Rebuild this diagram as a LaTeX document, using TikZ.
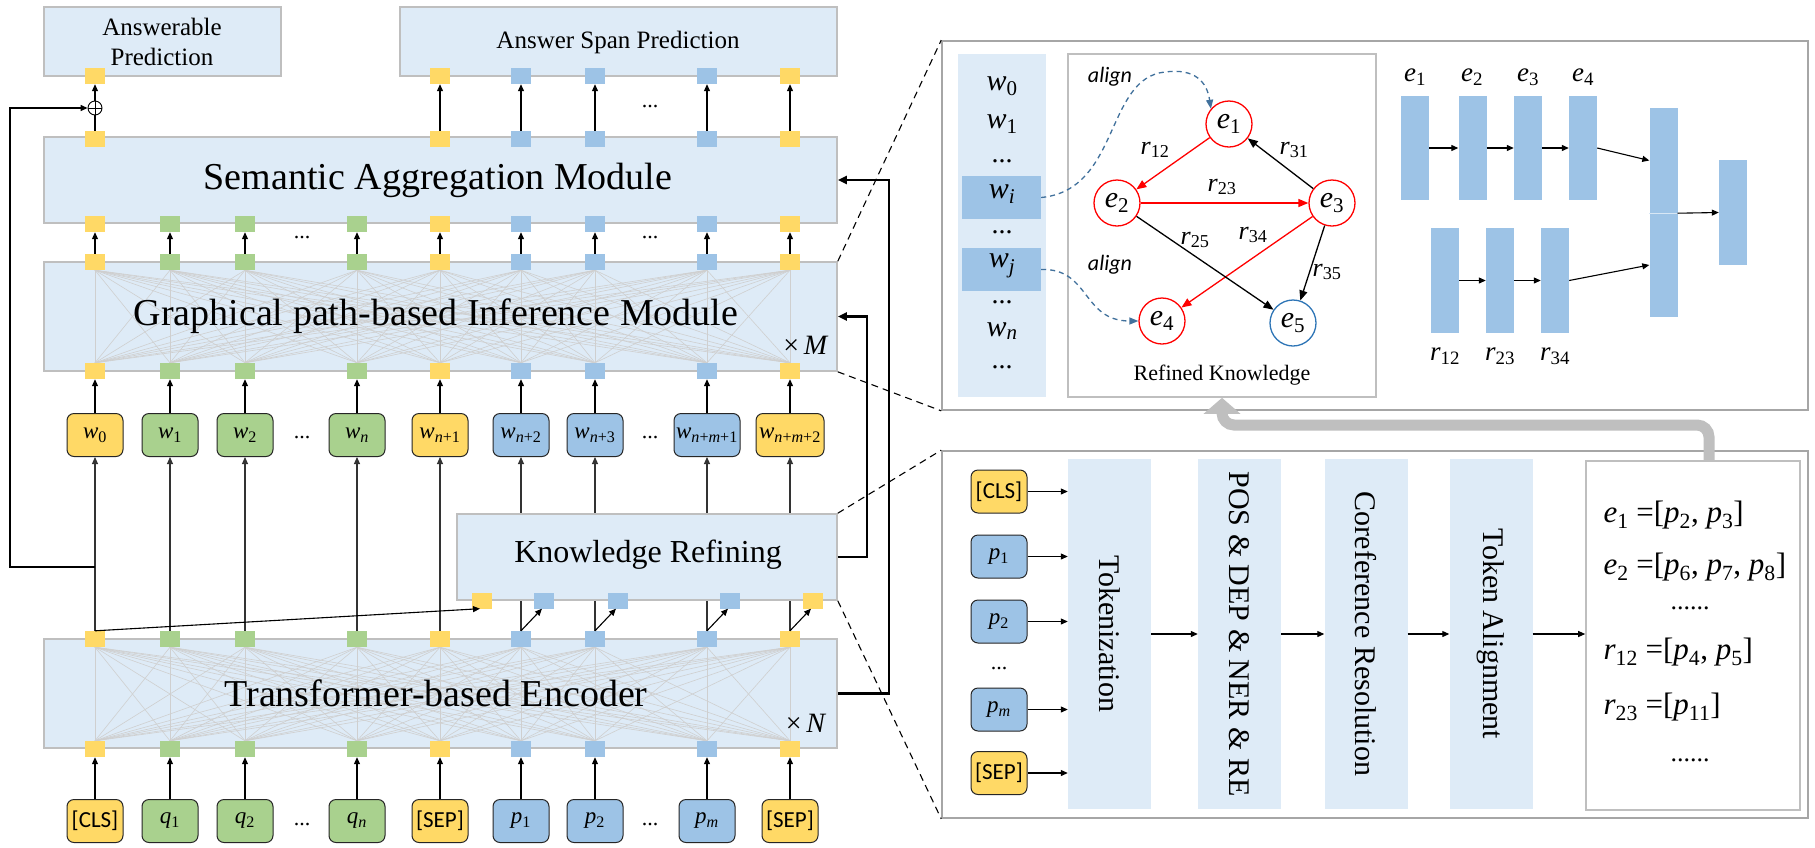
\documentclass[tikz,border=0pt]{standalone}
\usepackage{fontspec}
\setmainfont{Liberation Serif}
\newfontfamily\cfont{Carlito}
\usetikzlibrary{arrows.meta,calc}
\definecolor{boxbg}{HTML}{DEEBF7}
\definecolor{boxln}{HTML}{BFBFBF}
\definecolor{yel}{HTML}{FFD966}
\definecolor{grn}{HTML}{A9D18E}
\definecolor{blu}{HTML}{9DC3E6}
\definecolor{dblu}{HTML}{2E75B6}
\definecolor{alblu}{HTML}{41719C}
\definecolor{pnl}{HTML}{A6A6A6}
\definecolor{grarr}{HTML}{BFBFBF}
\newcommand\fs[1]{\fontsize{#1}{#1}\selectfont}
\newcommand\vsub[2]{\textit{#1}\textsubscript{#2}}
\begin{document}
\begin{tikzpicture}[x=1pt,y=-1pt,
  arr/.style={-{Triangle[length=7pt,width=6pt]}, line width=1.1pt},
  ln/.style={line width=1.1pt},
  thk/.style={-{Triangle[length=9pt,width=8pt]}, line width=2.2pt},
  mesh/.style={draw=gray!38, line width=0.6pt},
  modbox/.style={draw=boxln, fill=boxbg, line width=1.6pt, inner sep=0},
  sq/.style={minimum width=20pt, minimum height=16pt, inner sep=0},
  tok/.style={draw=black!85, line width=1pt, rounded corners=7pt, minimum width=56pt, minimum height=43pt, inner sep=0, font=\fs{23}},
  bar/.style={fill=blu, minimum width=28pt, inner sep=0},
  ent/.style={circle, draw=red, line width=1.3pt, minimum size=46pt, inner sep=0, font=\fs{30}},
  redarr/.style={-{Triangle[length=10pt,width=8pt]}, draw=red, line width=1.3pt},
  blkarr/.style={-{Triangle[length=10pt,width=8pt]}, line width=1.3pt},
  aldash/.style={-{Triangle[length=9pt,width=7pt]}, draw=alblu, dashed, dash pattern=on 5pt off 4pt, line width=1.3pt},
  pdash/.style={draw=black, dash pattern=on 7pt off 5pt, line width=1.1pt},
  modtxt/.style={font=\fs{38}},
  rlab/.style={font=\fs{26}},
  dots/.style={font=\fs{22}},
  stage/.style={draw=none, fill=boxbg, minimum width=83pt, minimum height=350pt, inner sep=0},
  stagetxt/.style={rotate=-90, font=\fs{30}},
  wlab/.style={font=\fs{30}, inner sep=0},
]
\useasboundingbox (0,0) rectangle (1815,847);
\fill[white] (0,0) rectangle (1815,847);

% ---------- module boxes ----------
\node[modbox, minimum width=237pt, minimum height=69pt] (ansb) at (162.5,41.5) {};
\node[modbox, minimum width=437pt, minimum height=69pt] (spanb) at (618.5,41.5) {};
\node[modbox, minimum width=793pt, minimum height=86pt] (sam) at (440.5,180) {};
\node[modbox, minimum width=793pt, minimum height=109pt] (gpim) at (440.5,316.5) {};
\node[modbox, minimum width=793pt, minimum height=109pt] (enc) at (440.5,693.5) {};

% ---------- squares ----------
\foreach \x/\c [count=\i] in {95/yel,170/grn,245/grn,357/grn,440/yel,521/blu,595/blu,707/blu,790/yel} {
  \node[sq,fill=\c] (eb\i) at (\x,749) {};
  \node[sq,fill=\c] (et\i) at (\x,639) {};
  \node[sq,fill=\c] (gb\i) at (\x,371) {};
  \node[sq,fill=\c] (gt\i) at (\x,262) {};
  \node[sq,fill=\c] (sb\i) at (\x,224) {};
}
\foreach \x/\c [count=\i from 5] in {440/yel,521/blu,595/blu,707/blu,790/yel} {
  \node[sq,fill=\c] (st\i) at (\x,139) {};
  \node[sq,fill=\c] (ap\i) at (\x,76) {};
}
\node[sq,fill=yel] (st1) at (95,139) {};
\node[sq,fill=yel] (ap1) at (95,76) {};

% ---------- mesh ----------
\foreach \i in {1,...,9} \foreach \j in {1,...,9} {
  \draw[mesh] (eb\i.north) -- (et\j.south);
  \draw[mesh] (gb\i.north) -- (gt\j.south);
}
% squares again above the mesh
\foreach \x/\c [count=\i] in {95/yel,170/grn,245/grn,357/grn,440/yel,521/blu,595/blu,707/blu,790/yel} {
  \fill[\c] (eb\i.south west) rectangle (eb\i.north east);
  \fill[\c] (et\i.south west) rectangle (et\i.north east);
  \fill[\c] (gb\i.south west) rectangle (gb\i.north east);
  \fill[\c] (gt\i.south west) rectangle (gt\i.north east);
}

% ---------- module texts ----------
\node[font=\fontsize{25}{30}\selectfont, align=center] at (162,42) {Answerable\\Prediction};
\node[font=\fs{25}] at (618,42) {Answer Span Prediction};
\node[modtxt] at (438,180) {Semantic Aggregation Module};
\node[modtxt] at (436,316) {Graphical path-based Inference Module};
\node[modtxt] at (436,693) {Transformer-based Encoder};
\node[font=\fs{28}] at (806,345) {×\,\textit{M}};
\node[font=\fs{28}] at (806,723) {×\,\textit{N}};

% ---------- input tokens ----------
\node[tok,fill=yel] (in1) at (95,821) {\cfont [CLS]};
\node[tok,fill=grn] (in2) at (170,821) {\vsub{q}{1}};
\node[tok,fill=grn] (in3) at (245,821) {\vsub{q}{2}};
\node[tok,fill=grn] (in4) at (357,821) {\vsub{q}{\textit{n}}};
\node[tok,fill=yel] (in5) at (440,821) {\cfont [SEP]};
\node[tok,fill=blu] (in6) at (521,821) {\vsub{p}{1}};
\node[tok,fill=blu] (in7) at (595,821) {\vsub{p}{2}};
\node[tok,fill=blu] (in8) at (707,821) {\vsub{p}{\textit{m}}};
\node[tok,fill=yel] (in9) at (790,821) {\cfont [SEP]};
\node[dots] at (302,824) {...};
\node[dots] at (650,824) {...};

% ---------- word tokens ----------
\node[tok,fill=yel] (w1) at (95,435) {\vsub{w}{0}};
\node[tok,fill=grn] (w2) at (170,435) {\vsub{w}{1}};
\node[tok,fill=grn] (w3) at (245,435) {\vsub{w}{2}};
\node[tok,fill=grn] (w4) at (357,435) {\vsub{w}{\textit{n}}};
\node[tok,fill=yel] (w5) at (440,435) {\vsub{w}{\textit{n}+1}};
\node[tok,fill=blu] (w6) at (521,435) {\vsub{w}{\textit{n}+2}};
\node[tok,fill=blu] (w7) at (595,435) {\vsub{w}{\textit{n}+3}};
\node[tok,fill=blu,minimum width=66pt] (w8) at (707,435) {\vsub{w}{\textit{n}+\textit{m}+1}};
\node[tok,fill=yel,minimum width=68pt] (w9) at (790,435) {\vsub{w}{\textit{n}+\textit{m}+2}};
\node[dots] at (302,438) {...};
\node[dots] at (650,438) {...};

% ---------- vertical arrows ----------
\foreach \i in {1,...,9} {
  \draw[arr] (in\i.north) -- (eb\i.south);
  \draw[arr,draw=black!80] (et\i.north) -- (w\i.south);
  \draw[arr] (w\i.north) -- (gb\i.south);
  \draw[arr] (gt\i.north) -- (sb\i.south);
}
\node[dots] at (302,238) {...};
\node[dots] at (650,238) {...};
\foreach \i in {5,...,9} \draw[arr] (st\i.north) -- (ap\i.south);
\node[dots] at (650,107) {...};
\node[circle, draw, line width=0.9pt, minimum size=14pt, inner sep=0,
  path picture={\draw[line width=0.9pt] (path picture bounding box.north) -- (path picture bounding box.south) (path picture bounding box.west) -- (path picture bounding box.east);}] (plus) at (95,108) {};
\draw[ln] (st1.north) -- (plus.south);
\draw[arr] (plus.north) -- (ap1.south);
\coordinate (brk) at (95,567);
\draw[arr, line width=1.5pt] (brk) -- ++(-85,0) |- (plus.west);

% ---------- knowledge refining ----------
\node[modbox, minimum width=380pt, minimum height=86pt] (kr) at (647,557) {};
\node[font=\fs{32}] at (648,555) {Knowledge Refining};
\node[sq,fill=yel] (kr1) at (482,600.5) {};
\node[sq,fill=blu] (kr2) at (544,600.5) {};
\node[sq,fill=blu] (kr3) at (618,600.5) {};
\node[sq,fill=blu] (kr4) at (730,600.5) {};
\node[sq,fill=yel] (kr5) at (813,600.5) {};
\draw[arr] (et1.north) -- ($(kr1.south west)!0.4!(kr1.south east)$);
\draw[arr] (et6.north) -- ($(kr2.south west)!0.4!(kr2.south east)$);
\draw[arr] (et7.north) -- ($(kr3.south west)!0.4!(kr3.south east)$);
\draw[arr] (et8.north) -- ($(kr4.south west)!0.4!(kr4.south east)$);
\draw[arr] (et9.north) -- ($(kr5.south west)!0.4!(kr5.south east)$);

% ---------- feedback lines ----------
\draw[thk] (kr.east) -- ++(29,0) |- (gpim.east);
\draw[thk] (enc.east) -- ++(51,0) |- (sam.east);

% ---------- top right panel ----------
\node[draw=pnl, line width=1.6pt, minimum width=866pt, minimum height=369pt, inner sep=0] (tp) at (1375,225.5) {};
\node[fill=boxbg, minimum width=88pt, minimum height=343pt, inner sep=0] (wcol) at (1002,225.5) {};
\node[fill=blu, minimum width=79pt, minimum height=43pt, inner sep=0] (wi) at (1001.5,197.5) {};
\node[fill=blu, minimum width=79pt, minimum height=43pt, inner sep=0] (wj) at (1001.5,269.5) {};
\node[wlab] at (1002,86) {\vsub{w}{0}};
\node[wlab] at (1002,124) {\vsub{w}{1}};
\node[dots,font=\fs{28}] at (1002,161) {...};
\node[wlab] at (1002,194) {\vsub{w}{\textit{i}}};
\node[dots,font=\fs{28}] at (1002,232) {...};
\node[wlab] at (1002,266) {\vsub{w}{\textit{j}}};
\node[dots,font=\fs{28}] at (1002,302) {...};
\node[wlab] at (1002,331) {\vsub{w}{\textit{n}}};
\node[dots,font=\fs{28}] at (1002,367) {...};
\node[draw=boxln, line width=1.6pt, fill=white, minimum width=308pt, minimum height=343pt, inner sep=0] (rk) at (1222,225.5) {};
\node[font=\fs{22}] at (1222,375) {Refined Knowledge};
\node[ent] (e1) at (1229,124) {\vsub{e}{1}};
\node[ent] (e2) at (1117,203) {\vsub{e}{2}};
\node[ent] (e3) at (1332,203) {\vsub{e}{3}};
\node[ent] (e4) at (1162,321) {\vsub{e}{4}};
\node[ent,draw=dblu] (e5) at (1293,323) {\vsub{e}{5}};
\draw[redarr] (e1) -- (e2);
\draw[redarr] (e2) -- (e3);
\draw[redarr] (e3) -- (e4);
\draw[blkarr] (e3) -- (e1);
\draw[blkarr] (e2) -- (e5);
\draw[blkarr] (e3) -- (e5);
\node[rlab] at (1155,150) {\vsub{r}{12}};
\node[rlab] at (1294,150) {\vsub{r}{31}};
\node[rlab] at (1222,187) {\vsub{r}{23}};
\node[rlab] at (1195,240) {\vsub{r}{25}};
\node[rlab] at (1253,235) {\vsub{r}{34}};
\node[rlab] at (1327,272) {\vsub{r}{35}};
\node[font=\cfont\itshape\fs{22}] at (1110,77) {align};
\node[font=\cfont\itshape\fs{22}] at (1110,265) {align};
\draw[aldash] (wi.east) .. controls (1120,190) and (1105,78) .. (1165,72) .. controls (1195,68) and (1207,82) .. (e1.140);
\draw[aldash] (wj.east) .. controls (1090,268) and (1082,321) .. (e4.west);

% bars
\node[bar, minimum height=104pt] (be1) at (1415,148) {};
\node[bar, minimum height=104pt] (be2) at (1472.5,148) {};
\node[bar, minimum height=104pt] (be3) at (1528,148) {};
\node[bar, minimum height=104pt] (be4) at (1583,148) {};
\node[bar, minimum height=105pt] (br1) at (1445,280.5) {};
\node[bar, minimum height=105pt] (br2) at (1500,280.5) {};
\node[bar, minimum height=105pt] (br3) at (1555,280.5) {};
\node[bar, minimum height=105pt] (bigu) at (1663.5,160.5) {};
\node[bar, minimum height=104pt] (bigl) at (1663.5,265) {};
\node[bar, minimum height=105pt] (fin) at (1733,212.5) {};
\draw[white!60!blu, line width=0.6pt] (bigu.south west) -- (bigu.south east);
\begin{scope}[every node/.style={font=\fs{27}}]
\node at (1415,77) {\vsub{e}{1}};
\node at (1472,77) {\vsub{e}{2}};
\node at (1528,77) {\vsub{e}{3}};
\node at (1583,77) {\vsub{e}{4}};
\node at (1445,356) {\vsub{r}{12}};
\node at (1500,356) {\vsub{r}{23}};
\node at (1555,356) {\vsub{r}{34}};
\end{scope}
\draw[arr] (be1.east) -- (be2.west);
\draw[arr] (be2.east) -- (be3.west);
\draw[arr] (be3.east) -- (be4.west);
\draw[arr] (br1.east) -- (br2.west);
\draw[arr] (br2.east) -- (br3.west);
\draw[arr] (be4.east) -- (bigu.west);
\draw[arr] (br3.east) -- (bigl.west);
\draw[arr] (bigu.south east) -- (fin.west);

% ---------- bottom right panel ----------
\node[draw=pnl, line width=1.6pt, minimum width=866pt, minimum height=367pt, inner sep=0] (bp) at (1375,634.5) {};
\node[tok,fill=yel] (bcls) at (999,491.5) {\cfont [CLS]};
\node[tok,fill=blu] (bp1) at (999,556.5) {\vsub{p}{1}};
\node[tok,fill=blu] (bp2) at (999,621.5) {\vsub{p}{2}};
\node[dots] at (999,668) {...};
\node[tok,fill=blu] (bpm) at (999,709.5) {\vsub{p}{\textit{m}}};
\node[tok,fill=yel] (bsep) at (999,773) {\cfont [SEP]};
\node[stage] (tokz) at (1109.5,634) {};
\node[stage] (posb) at (1239.5,634) {};
\node[stage] (corf) at (1366,634) {};
\node[stage] (tali) at (1491,634) {};
\node[stagetxt] at (tokz) {Tokenization};
\node[stagetxt] at (posb) {POS \& DEP \& NER \& RE};
\node[stagetxt] at (corf) {Coreference Resolution};
\node[stagetxt] at (tali) {Token Alignment};
\node[draw=boxln, line width=1.6pt, fill=white, minimum width=214pt, minimum height=349pt, inner sep=0] (res) at (1693,635.5) {};
\foreach \n in {bcls,bp1,bp2,bpm,bsep} \draw[arr] (\n.east) -- (\n.east -| tokz.west);
\draw[arr] (tokz.east) -- (posb.west);
\draw[arr] (posb.east) -- (corf.west);
\draw[arr] (corf.east) -- (tali.west);
\draw[arr] (tali.east) -- (tali.east -| res.west);
\begin{scope}[every node/.style={font=\fs{31}, anchor=west}]
\node at (1600,515) {\vsub{e}{1} =[\vsub{p}{2}, \vsub{p}{3}]};
\node at (1600,567) {\vsub{e}{2} =[\vsub{p}{6}, \vsub{p}{7}, \vsub{p}{8}]};
\node at (1600,652) {\vsub{r}{12} =[\vsub{p}{4}, \vsub{p}{5}]};
\node at (1600,707) {\vsub{r}{23} =[\vsub{p}{11}]};
\end{scope}
\node[font=\fs{26}] at (1690,608) {......};
\node[font=\fs{26}] at (1690,760) {......};

% gray arrow
\coordinate (gs) at (1709,461);
\draw[grarr, line width=11pt, rounded corners=12pt, -{Triangle[length=16pt,width=36pt]}] (gs) -- ++(0,-36) -| (rk.south);

% ---------- dashed zoom lines ----------
\draw[pdash] (gpim.north east) -- (tp.north west);
\draw[pdash] (gpim.south east) -- (tp.south west);
\draw[pdash] (kr.north east) -- (bp.north west);
\draw[pdash] (kr.south east) -- (bp.south west);
\end{tikzpicture}
\end{document}
